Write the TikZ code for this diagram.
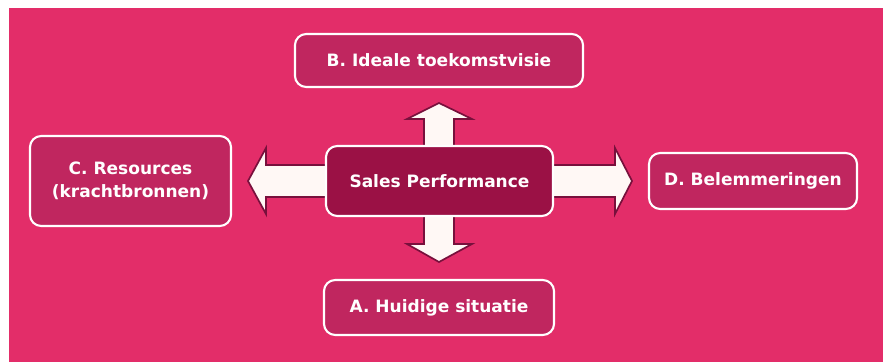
\documentclass[tikz,border=0pt]{standalone}
\usepackage{fontspec}
\setmainfont{DejaVu Sans}
\usetikzlibrary{positioning}
\definecolor{bgpink}{RGB}{227,45,105}
\definecolor{boxpink}{RGB}{192,38,95}
\definecolor{corepink}{RGB}{155,17,69}
\definecolor{arrowfill}{RGB}{255,248,245}
\definecolor{arrowline}{RGB}{120,16,60}

\begin{document}
\begin{tikzpicture}[x=0.025cm,y=-0.025cm,
    main node/.style={rectangle,rounded corners=8pt,draw=white,line width=1.5pt,fill=boxpink,
      text=white,font=\bfseries\fontsize{12.1}{16}\selectfont,align=center,inner sep=0pt},
    core node/.style={main node,fill=corepink},
    block arrow/.style={draw=arrowline,fill=arrowfill,line width=1.2pt,line join=miter}]
   \useasboundingbox (0,0) rectangle (883,362);
   \fill[bgpink] (9,8) rectangle (883,362);
   % four block arrows behind the centre
   \draw[block arrow] (424,150) -- (424,119) -- (407,119) -- (439,103) -- (472,119) -- (454,119) -- (454,150) -- cycle;
   \draw[block arrow] (424,212) -- (424,244) -- (407,244) -- (439,262) -- (472,244) -- (454,244) -- (454,212) -- cycle;
   \draw[block arrow] (330,165) -- (266,165) -- (266,148) -- (248,181) -- (266,214) -- (266,197) -- (330,197) -- cycle;
   \draw[block arrow] (549,165) -- (615,165) -- (615,148) -- (632,181) -- (615,214) -- (615,197) -- (549,197) -- cycle;
   % boxes
   \node[core node,minimum width=5.675cm,minimum height=1.75cm] (sp) at (439.5,181) {Sales Performance};
   \node[main node,minimum width=7.2cm,minimum height=1.325cm] (b) at (439,60.5) {B. Ideale toekomstvisie};
   \node[main node,minimum width=5.025cm,minimum height=2.25cm] (c) at (130.5,181) {C. Resources\\(krachtbronnen)};
   \node[main node,minimum width=5.2cm,minimum height=1.4cm] (d) at (753,181) {D. Belemmeringen};
   \node[main node,minimum width=5.75cm,minimum height=1.375cm] (a) at (439,307.5) {A. Huidige situatie};
\end{tikzpicture}
\end{document}
